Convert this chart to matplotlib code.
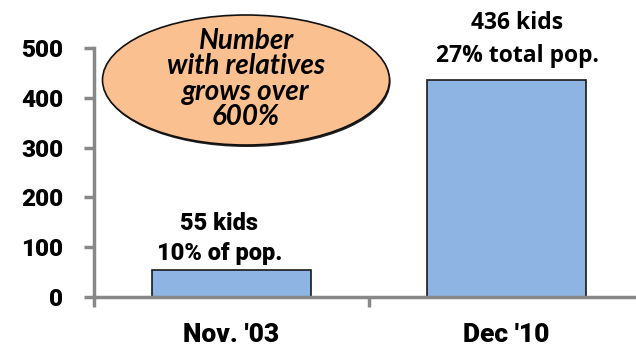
import matplotlib.pyplot as plt
from matplotlib.patches import Ellipse

# kids placed with relatives
periods = ["Nov. '03", "Dec '10"]
kids = [55, 436]
bar_notes = ["55 kids\n10% of pop.", "436 kids\n27% total pop."]
callout = "Number\nwith relatives\ngrows over\n600%"

axis_grey = "#888888"

fig = plt.figure(figsize=(6.36, 3.47), dpi=100)
ax = fig.add_axes([94 / 636, 50 / 347, 550 / 636, 249 / 347])

x = list(range(len(periods)))
ax.bar(x, kids, width=0.575, color="#8EB4E3", edgecolor="#1a1a1a", linewidth=1.2, zorder=2)

ax.set_xlim(-0.5, 1.5)
ax.set_ylim(0, 500)
ax.set_yticks([0, 100, 200, 300, 400, 500])

# tick marks sit between the categories, labels in the middle
ax.set_xticks([-0.5, 0.5, 1.5])
ax.set_xticklabels([])
ax.set_xticks(x, minor=True)
ax.set_xticklabels(periods, minor=True, fontsize=19, fontweight=900, family="Roboto")
ax.tick_params(axis="x", which="minor", length=0, pad=19)
ax.tick_params(axis="x", which="major", length=7, width=2.5, color=axis_grey)
ax.tick_params(axis="y", length=7, width=2.5, color=axis_grey, pad=15)
for lbl in ax.get_yticklabels():
    lbl.set_family("Roboto")
    lbl.set_fontweight(900)
    lbl.set_fontsize(17.5)

for side in ["top", "right"]:
    ax.spines[side].set_visible(False)
for side in ["left", "bottom"]:
    ax.spines[side].set_color(axis_grey)
    ax.spines[side].set_linewidth(2.5)

# value notes over each bar
ax.annotate(bar_notes[0], xy=(x[0], kids[0]), xytext=(-12, 5), textcoords="offset pixels",
            ha="center", va="bottom", family="Roboto", fontsize=17, fontweight=900,
            linespacing=1.35, annotation_clip=False)
ax.annotate(bar_notes[1], xy=(x[1], kids[1]), xytext=(11, 12), textcoords="offset pixels",
            ha="center", va="bottom", family="Open Sans", fontsize=16.5, fontweight=700,
            linespacing=1.5, annotation_clip=False)

# orange callout bubble with a little drop shadow
shadow = Ellipse((247 / 636, 1 - 82 / 347), 287 / 636, 130 / 347, transform=fig.transFigure,
                 facecolor="#222222", edgecolor="none", zorder=3)
bubble = Ellipse((246 / 636, 1 - 80 / 347), 287 / 636, 130 / 347, transform=fig.transFigure,
                 facecolor="#FAC090", edgecolor="#111111", linewidth=1.2, zorder=4)
fig.patches.append(shadow)
fig.patches.append(bubble)
fig.text(246 / 636, 1 - 79 / 347, callout, ha="center", va="center", family="Lato",
         fontsize=20, fontweight="bold", fontstyle="italic", linespacing=0.98, zorder=5)

fig.savefig("out.png", dpi=100)
